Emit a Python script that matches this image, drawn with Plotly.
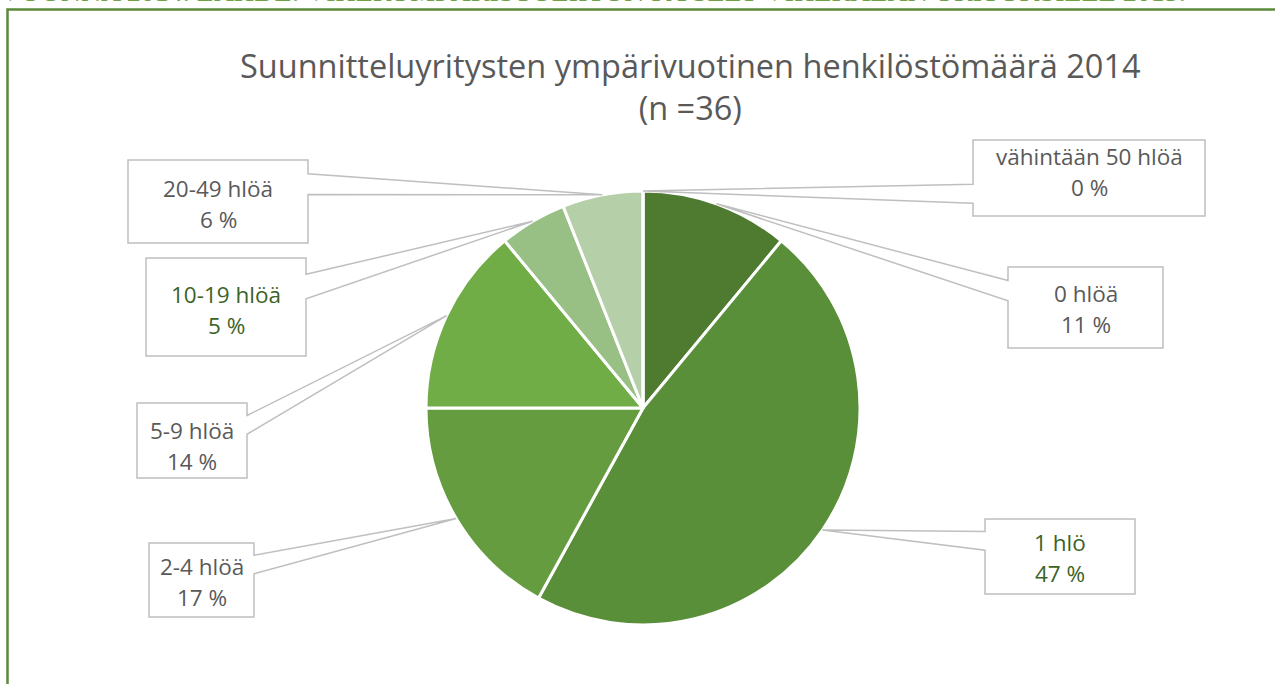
import math
import plotly.graph_objects as go

# ---- data ----
categories = ["0 hlöä", "1 hlö", "2-4 hlöä", "5-9 hlöä", "10-19 hlöä", "20-49 hlöä", "vähintään 50 hlöä"]
percent_values = [11, 47, 17, 14, 5, 6, 0]
title_line1 = "Suunnitteluyritysten ympärivuotinen henkilöstömäärä 2014"
title_line2 = "(n =36)"
source_text = "VUONNA 2014. LÄHDE: VIHERYMPÄRISTÖLIITON KYSELY VIHERALAN YRITYKSILLE 2015."

# ---- styles / layout ----
W, H = 1275, 684
slice_colors = ["#4f7b31", "#5a8f39", "#659c3f", "#70ad47", "#98c085", "#b5cfa8", "#d3e4ca"]
label_colors = {"1 hlö": "#3b6326", "10-19 hlöä": "#3b6326"}
grey = "#595959"

# pie geometry in px
CX, CY, R = 643, 408, 217

# callout boxes in px: (x0, y0, x1, y1, text_mid_y)
boxes = {
    "0 hlöä": (1008, 267, 1163, 348, 309),
    "1 hlö": (985, 519, 1135, 594, 558),
    "2-4 hlöä": (149, 543, 254, 617, 582),
    "5-9 hlöä": (137, 403, 247, 478, 446),
    "10-19 hlöä": (146, 258, 306, 356, 310),
    "20-49 hlöä": (128, 160, 308, 243, 204),
    "vähintään 50 hlöä": (973, 140, 1205, 216, 172),
}


def px(x):
    return x / W


def py(y):
    return 1 - y / H


def callout_path(x0, y0, x1, y1, tx, ty):
    w, h = x1 - x0, y1 - y0
    hc, vc = (x0 + x1) / 2, (y0 + y1) / 2
    dx, dy = tx - hc, ty - vc
    dq = dx * h / w
    if abs(dy) > abs(dq):
        g1, g2 = (7, 10) if dx > 0 else (2, 5)
        xa, xb = x0 + w * g1 / 12, x0 + w * g2 / 12
        if dy < 0:
            pts = [(x0, y0), (xa, y0), (tx, ty), (xb, y0), (x1, y0), (x1, y1), (x0, y1)]
        else:
            pts = [(x0, y0), (x1, y0), (x1, y1), (xb, y1), (tx, ty), (xa, y1), (x0, y1)]
    else:
        g1, g2 = (7, 10) if dy > 0 else (2, 5)
        ya, yb = y0 + h * g1 / 12, y0 + h * g2 / 12
        if dx < 0:
            pts = [(x0, y0), (x1, y0), (x1, y1), (x0, y1), (x0, yb), (tx, ty), (x0, ya)]
        else:
            pts = [(x0, y0), (x1, y0), (x1, ya), (tx, ty), (x1, yb), (x1, y1), (x0, y1)]
    return "M " + " L ".join(f"{px(a):.5f},{py(b):.5f}" for a, b in pts) + " Z"


fig = go.Figure()
fig.add_trace(go.Pie(
    labels=categories,
    values=percent_values,
    sort=False,
    direction="clockwise",
    rotation=0,
    marker=dict(colors=slice_colors, line=dict(color="white", width=3)),
    textinfo="none",
    hoverinfo="label+percent",
    showlegend=False,
    domain=dict(x=[px(CX - R), px(CX + R)], y=[py(CY + R), py(CY - R)]),
))

shapes = []
annotations = []

# frame
shapes.append(dict(type="rect", xref="paper", yref="paper",
                   x0=px(7.5), x1=px(1300), y0=py(700), y1=py(9.5),
                   line=dict(color="#5b8b3a", width=2.5), fillcolor="rgba(0,0,0,0)", layer="below"))

total = sum(percent_values)
cum = 0
for cat, val in zip(categories, percent_values):
    mid = (cum + val / 2) / total
    cum += val
    ang = 2 * math.pi * mid
    tx = CX + R * math.sin(ang)
    ty = CY - R * math.cos(ang)
    x0, y0, x1, y1, tmid = boxes[cat]
    shapes.append(dict(type="path", xref="paper", yref="paper",
                       path=callout_path(x0, y0, x1, y1, tx, ty),
                       line=dict(color="#bfbfbf", width=1.5), fillcolor="white", layer="above"))
    col = label_colors.get(cat, grey)
    xc = (x0 + x1) / 2
    annotations.append(dict(x=px(xc), y=py(tmid - 15.5), xref="paper", yref="paper",
                            text=cat, showarrow=False, xanchor="center", yanchor="middle",
                            font=dict(family="Open Sans", size=22.5, color=col)))
    annotations.append(dict(x=px(xc), y=py(tmid + 15.5), xref="paper", yref="paper",
                            text=f"{val} %", showarrow=False, xanchor="center", yanchor="middle",
                            font=dict(family="Open Sans", size=22.5, color=col)))

# title (two lines in one text)
annotations.append(dict(x=px(690), y=py(86), xref="paper", yref="paper",
                        text=title_line1 + "<br>" + title_line2,
                        showarrow=False, xanchor="center", yanchor="middle", align="center",
                        font=dict(family="Open Sans", size=32.5, color=grey)))

# cut-off source line at the very top
annotations.append(dict(x=px(-2), y=py(-9), xref="paper", yref="paper", text=source_text,
                        showarrow=False, xanchor="left", yanchor="middle",
                        font=dict(family="Liberation Serif", size=28, color="#6fa146")))

fig.update_layout(
    width=W, height=H,
    margin=dict(l=0, r=0, t=0, b=0),
    paper_bgcolor="white", plot_bgcolor="white",
    shapes=shapes, annotations=annotations,
)

fig.write_html("out.html", config={"displayModeBar": False},
               post_script="document.body.style.margin='0';")
